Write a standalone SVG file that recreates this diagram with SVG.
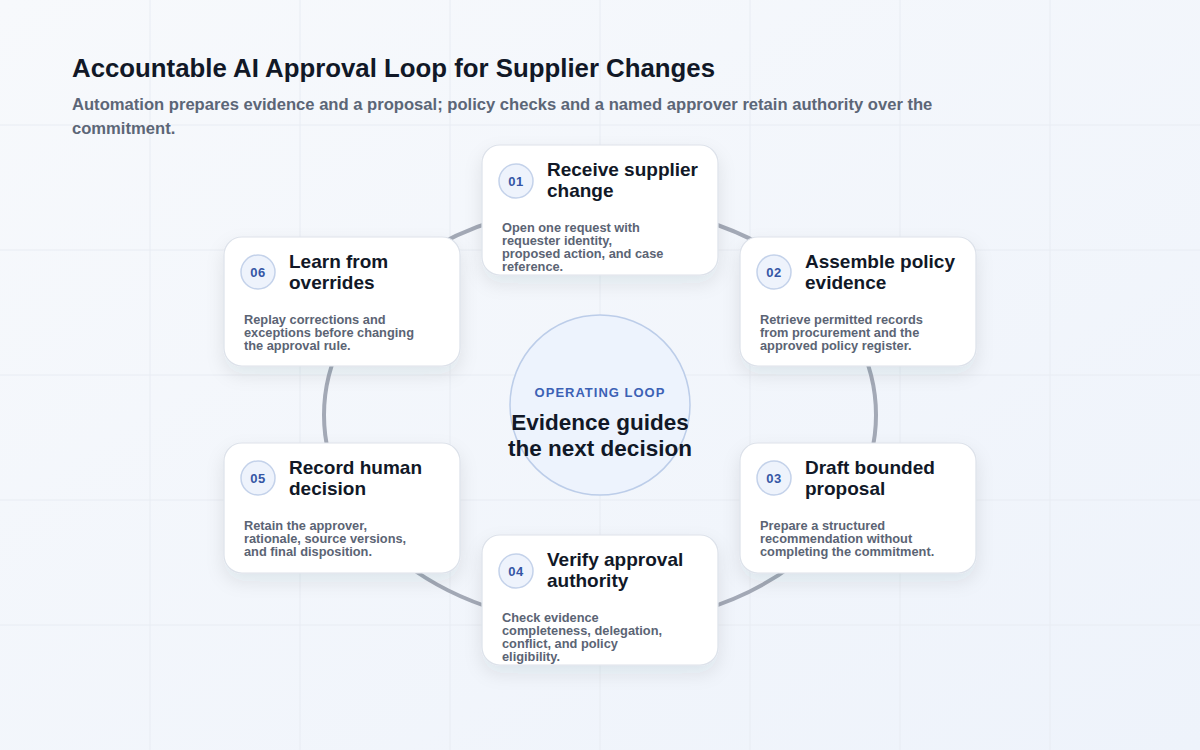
<svg xmlns="http://www.w3.org/2000/svg" width="1200" height="750" viewBox="0 0 1200 750">
<defs>
<linearGradient id="bg" x1="0" y1="0" x2="1" y2="1">
<stop offset="0" stop-color="#f7f9fc"/>
<stop offset="1" stop-color="#eef3fb"/>
</linearGradient>
<filter id="sh" x="-20%" y="-20%" width="140%" height="150%">
<feDropShadow dx="0" dy="8" stdDeviation="9" flood-color="#1e2a46" flood-opacity="0.09"/>
</filter>
<style>
.grid{stroke:#e8ecf3;stroke-width:1}
.card{fill:#ffffff;stroke:#dde2ea;stroke-width:1.2;filter:url(#sh)}
.badge{fill:#eef3fc;stroke:#c4d2ea;stroke-width:1.5}
.num{font-family:"Liberation Sans",Arial,sans-serif;font-weight:700;font-size:13px;fill:#3556a5;text-anchor:middle;letter-spacing:0.5px}
.ttl{font-family:"Liberation Sans",Arial,sans-serif;font-weight:700;font-size:19px;fill:#111827}
.desc{font-family:"Liberation Sans",Arial,sans-serif;font-weight:700;font-size:12.8px;fill:#5b6474}
.ring{fill:none;stroke:#a3a9b6;stroke-width:4}
</style>
</defs>
<rect width="1200" height="750" fill="url(#bg)"/>
<g id="grid">
<line class="grid" x1="150" y1="0" x2="150" y2="750"/>
<line class="grid" x1="300" y1="0" x2="300" y2="750"/>
<line class="grid" x1="450" y1="0" x2="450" y2="750"/>
<line class="grid" x1="600" y1="0" x2="600" y2="750"/>
<line class="grid" x1="750" y1="0" x2="750" y2="750"/>
<line class="grid" x1="900" y1="0" x2="900" y2="750"/>
<line class="grid" x1="1050" y1="0" x2="1050" y2="750"/>
<line class="grid" x1="0" y1="125" x2="1200" y2="125"/>
<line class="grid" x1="0" y1="250" x2="1200" y2="250"/>
<line class="grid" x1="0" y1="375" x2="1200" y2="375"/>
<line class="grid" x1="0" y1="500" x2="1200" y2="500"/>
<line class="grid" x1="0" y1="625" x2="1200" y2="625"/>
</g>
<g id="header">
<text x="72" y="77" font-family="Liberation Sans, Arial, sans-serif" font-weight="700" font-size="25.8" fill="#111827">Accountable AI Approval Loop for Supplier Changes</text>
<text font-family="Liberation Sans, Arial, sans-serif" font-weight="700" font-size="16.6" fill="#5c6677"><tspan x="72" y="110">Automation prepares evidence and a proposal; policy checks and a named approver retain authority over the</tspan><tspan x="72" y="134">commitment.</tspan></text>
</g>
<g id="connectors">
<ellipse class="ring" cx="600" cy="415" rx="276" ry="210"/>
</g>
<g id="center">
<circle cx="600" cy="405" r="90" fill="#edf3fd" stroke="#bccde9" stroke-width="1.5"/>
<text x="600" y="397" text-anchor="middle" font-family="Liberation Sans, Arial, sans-serif" font-weight="700" font-size="13" letter-spacing="1" fill="#3c61b5">OPERATING LOOP</text>
<text text-anchor="middle" font-family="Liberation Sans, Arial, sans-serif" font-weight="700" font-size="22.5" fill="#111827"><tspan x="600" y="430">Evidence guides</tspan><tspan x="600" y="456">the next decision</tspan></text>
</g>
<g id="step01">
<rect class="card" x="482" y="145" width="236" height="130" rx="18"/>
<circle class="badge" cx="516" cy="181" r="17"/>
<text class="num" x="516" y="186">01</text>
<text class="ttl"><tspan x="547" y="176">Receive supplier</tspan><tspan x="547" y="197">change</tspan></text>
<text class="desc"><tspan x="502" y="232">Open one request with</tspan><tspan x="502" y="245">requester identity,</tspan><tspan x="502" y="258">proposed action, and case</tspan><tspan x="502" y="271">reference.</tspan></text>
</g>
<g id="step02">
<rect class="card" x="740" y="237" width="236" height="129" rx="18"/>
<circle class="badge" cx="774" cy="272" r="17"/>
<text class="num" x="774" y="277">02</text>
<text class="ttl"><tspan x="805" y="268">Assemble policy</tspan><tspan x="805" y="289">evidence</tspan></text>
<text class="desc"><tspan x="760" y="324">Retrieve permitted records</tspan><tspan x="760" y="337">from procurement and the</tspan><tspan x="760" y="350">approved policy register.</tspan></text>
</g>
<g id="step03">
<rect class="card" x="740" y="443" width="236" height="130" rx="18"/>
<circle class="badge" cx="774" cy="478" r="17"/>
<text class="num" x="774" y="483">03</text>
<text class="ttl"><tspan x="805" y="474">Draft bounded</tspan><tspan x="805" y="495">proposal</tspan></text>
<text class="desc"><tspan x="760" y="530">Prepare a structured</tspan><tspan x="760" y="543">recommendation without</tspan><tspan x="760" y="556">completing the commitment.</tspan></text>
</g>
<g id="step04">
<rect class="card" x="482" y="535" width="236" height="130" rx="18"/>
<circle class="badge" cx="516" cy="571" r="17"/>
<text class="num" x="516" y="576">04</text>
<text class="ttl"><tspan x="547" y="566">Verify approval</tspan><tspan x="547" y="587">authority</tspan></text>
<text class="desc"><tspan x="502" y="622">Check evidence</tspan><tspan x="502" y="635">completeness, delegation,</tspan><tspan x="502" y="648">conflict, and policy</tspan><tspan x="502" y="661">eligibility.</tspan></text>
</g>
<g id="step05">
<rect class="card" x="224" y="443" width="236" height="130" rx="18"/>
<circle class="badge" cx="258" cy="478" r="17"/>
<text class="num" x="258" y="483">05</text>
<text class="ttl"><tspan x="289" y="474">Record human</tspan><tspan x="289" y="495">decision</tspan></text>
<text class="desc"><tspan x="244" y="530">Retain the approver,</tspan><tspan x="244" y="543">rationale, source versions,</tspan><tspan x="244" y="556">and final disposition.</tspan></text>
</g>
<g id="step06">
<rect class="card" x="224" y="237" width="236" height="129" rx="18"/>
<circle class="badge" cx="258" cy="272" r="17"/>
<text class="num" x="258" y="277">06</text>
<text class="ttl"><tspan x="289" y="268">Learn from</tspan><tspan x="289" y="289">overrides</tspan></text>
<text class="desc"><tspan x="244" y="324">Replay corrections and</tspan><tspan x="244" y="337">exceptions before changing</tspan><tspan x="244" y="350">the approval rule.</tspan></text>
</g>
</svg>
